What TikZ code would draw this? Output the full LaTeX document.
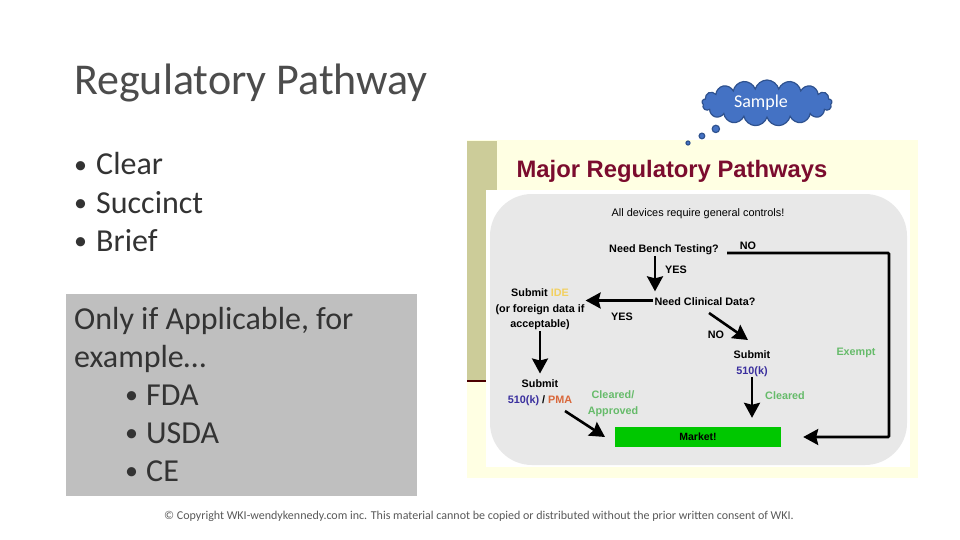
\documentclass[tikz,border=0pt]{standalone}
\usepackage{fontspec}
\setmainfont{Carlito}
\newfontfamily\chartfont{Liberation Sans}
\usetikzlibrary{arrows.meta,shapes.callouts}
\definecolor{paleyellow}{HTML}{FFFFE3}
\definecolor{olive}{HTML}{CCCC99}
\definecolor{chartgrey}{HTML}{E8E8E8}
\definecolor{boxgrey}{HTML}{BFBFBF}
\definecolor{maroon}{HTML}{7B0C2E}
\definecolor{okgreen}{HTML}{66BB6A}
\definecolor{linkblue}{HTML}{3A2F9E}
\definecolor{idegold}{HTML}{F2D060}
\definecolor{pmaorange}{HTML}{D9673A}
\definecolor{cloudblue}{HTML}{4472C4}
\definecolor{cloudedge}{HTML}{2F528F}
\newcommand{\slidebullet}[1]{\makebox[#1][l]{\raisebox{1.5pt}{\fontsize{26}{26}\selectfont\textbullet}}}
\tikzset{
    slidetext/.style={anchor=base west, inner sep=0pt, font=\fontsize{32}{38}\selectfont, text=black!80},
    chartlabel/.style={inner sep=1pt, yshift=-1.5pt, align=center, font=\chartfont\bfseries\fontsize{10.8}{15.5}\selectfont},
    greenlabel/.style={chartlabel, text=okgreen},
    flowarrow/.style={-{Stealth[length=15pt,width=16pt,inset=2pt]}, line width=2.6pt}
}
\begin{document}
\begin{tikzpicture}[x=1pt, y=-1pt, >=stealth]
    \useasboundingbox (0,0) rectangle (960,540);
    \fill[white] (0,0) rectangle (960,540);

    % Title and bullets
    \node[slidetext, text=black!70, font=\fontsize{44}{50}\selectfont] (title) at (74,95) {Regulatory Pathway};
    \node[slidetext] (clear) at (74,175) {\slidebullet{22pt}Clear};
    \node[slidetext] (succinct) at (74,213) {\slidebullet{22pt}Succinct};
    \node[slidetext] (brief) at (74,251) {\slidebullet{22pt}Brief};

    % Grey box
    \fill[boxgrey] (66,294) rectangle (417,496);
    \node[slidetext] (only) at (74,329) {Only if Applicable, for};
    \node[slidetext] (example) at (74,367) {example\ldots};
    \node[slidetext] (fda) at (125,405) {\slidebullet{21pt}FDA};
    \node[slidetext] (usda) at (125,443) {\slidebullet{21pt}USDA};
    \node[slidetext] (ce) at (125,481) {\slidebullet{21pt}CE};

    % Chart background
    \fill[paleyellow] (467,140) rectangle (918,478);
    \fill[olive] (467,141) rectangle (497,190);
    \fill[olive] (467,190) rectangle (486,380);
    \fill[black!70!red] (467,380) rectangle (486,382);
    \fill[white] (486,190) rectangle (910,467);
    \fill[chartgrey, rounded corners=42pt] (490,194) rectangle (907,465);

    % Chart texts
    \node[inner sep=0pt, text=maroon, font=\chartfont\bfseries\fontsize{23.8}{26}\selectfont] (heading) at (672,171) {Major Regulatory Pathways};
    \node[inner sep=0pt, font=\chartfont\fontsize{10.9}{12}\selectfont] (general) at (698,214) {All devices require general controls!};
    \node[chartlabel] (bench) at (664,248) {Need Bench Testing?};
    \node[chartlabel] (clinical) at (705,300) {Need Clinical Data?};
    \node[chartlabel] (ide) at (540,308) {Submit \textcolor{idegold}{IDE}\\(or foreign data if\\acceptable)};
    \node[chartlabel] (pma) at (540,391) {Submit\\\textcolor{linkblue}{510(k)} / \textcolor{pmaorange}{PMA}};
    \node[chartlabel] (fivek) at (752,362) {Submit\\\textcolor{linkblue}{510(k)}};
    \node[chartlabel, yshift=1.5pt, fill=green!78!black, minimum width=166pt, minimum height=20pt, font=\chartfont\bfseries\fontsize{10.5}{12}\selectfont] (market) at (698,437) {Market!};
    \node[chartlabel] (nobench) at (748,244) {NO};
    \node[chartlabel] (yesbench) at (676,268) {YES};
    \node[chartlabel] (yesclinical) at (622,315) {YES};
    \node[chartlabel] (noclinical) at (716,333) {NO};
    \node[greenlabel] (approved) at (613,402) {Cleared/\\Approved};
    \node[greenlabel] (cleared) at (785,394) {Cleared};
    \node[greenlabel] (exempt) at (856,351) {Exempt};

    % Free ends of the slanted and long arrows
    \coordinate (marketleft) at (605,437);
    \coordinate (pmaout) at (565,411);
    \coordinate (clinicalout) at (709,313);
    \coordinate (fivekin) at (748,340);
    \coordinate (benchout) at (727,253);
    \coordinate (corner) at (889,253);

    % Arrows
    \draw[flowarrow, shorten >=5pt] ([xshift=-9pt]bench.south) -- ([xshift=-9pt]bench.south |- clinical.north);
    \draw[flowarrow] ([yshift=1pt]clinical.west) -- ([yshift=1pt]clinical.west -| ide.east);
    \draw[flowarrow, shorten >=5pt] (ide.south) -- (pma.north);
    \draw[flowarrow] (pmaout) -- (marketleft);
    \draw[flowarrow] (clinicalout) -- (fivekin);
    \draw[flowarrow, shorten >=9pt] (fivek.south) -- (fivek.south |- market.north);
    \draw[flowarrow, rounded corners=1pt] (benchout) -- (corner) |- ([xshift=22pt]market.east);

    % Thought bubble
    \node[cloud callout, draw=cloudedge, fill=cloudblue, line width=1.2pt, text=white,
        minimum width=130pt, minimum height=46pt, inner sep=0pt, cloud puffs=17, aspect=2.8,
        callout absolute pointer={(688,143)}, callout pointer segments=3,
        callout pointer start size=9pt, callout pointer end size=4pt,
        font=\fontsize{18}{20}\selectfont] (sample) at (767,103) {\hspace*{-12pt}\raisebox{-2pt}{Sample}};

    % Footer
    \node[inner sep=0pt, text=black!65, font=\fontsize{12}{14}\selectfont] (copyright) at (479,516) {© Copyright WKI-wendykennedy.com inc. This material cannot be copied or distributed without the prior written consent of WKI.};
\end{tikzpicture}
\end{document}
